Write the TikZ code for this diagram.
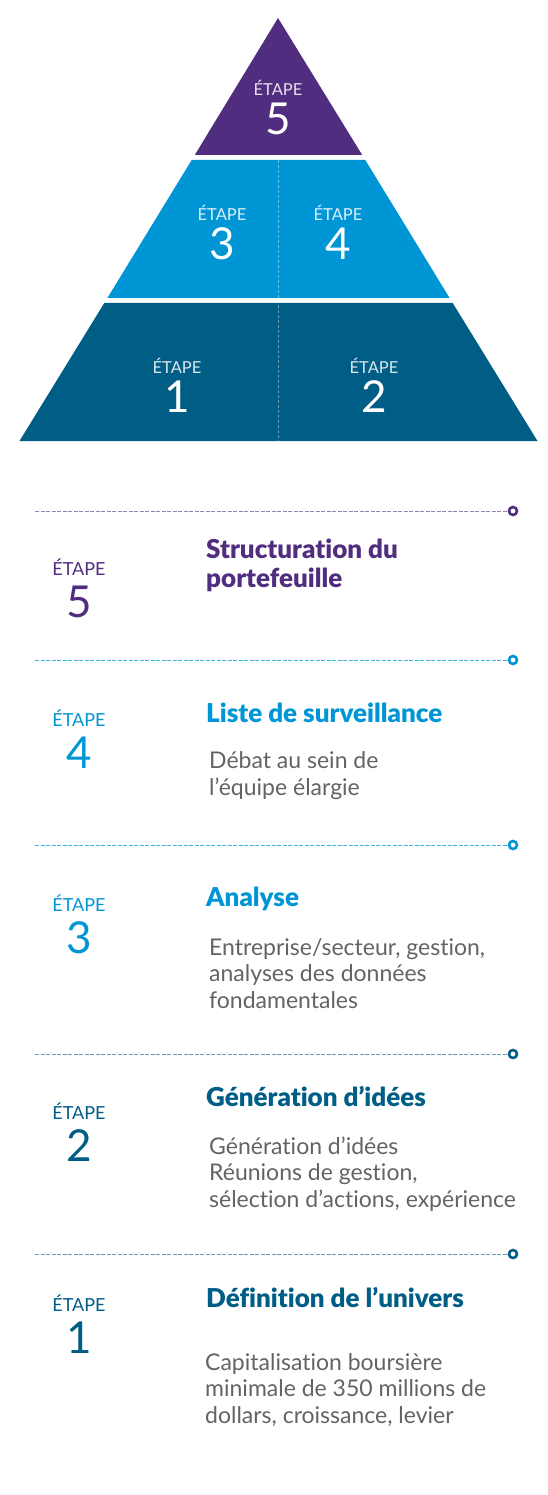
\documentclass[tikz,border=0pt]{standalone}
\usepackage{fontspec}
\setmainfont{Lato}[Ligatures=NoCommon, BoldFont={Lato Black}]
\definecolor{violet}{RGB}{81,45,127}
\definecolor{sky}{RGB}{0,150,214}
\definecolor{navy}{RGB}{0,94,134}
\definecolor{gris}{RGB}{99,99,99}
\begin{document}
\begin{tikzpicture}[x=1pt,y=-1pt,
    etape/.style={font=\fontsize{18}{18}\selectfont, inner sep=0pt, anchor=base},
    chiffre/.style={font=\fontsize{44}{44}\selectfont, inner sep=0pt, anchor=base},
    titre/.style={font=\fontsize{26}{29}\selectfont\bfseries, inner sep=0pt, anchor=base west, align=left},
    texte/.style={font=\fontsize{23}{26.5}\selectfont, text=gris, inner sep=0pt, anchor=base west, align=left},
    ligne/.style={dash pattern=on 4pt off 1.5pt, line width=1pt},
    rond/.style={circle, draw, line width=2.6pt, minimum size=8pt, inner sep=0pt, fill=white}]
            \useasboundingbox (0,0) rectangle (547,1495);

            \fill[violet] (278,18) -- (362.2,155) -- (194.8,155) -- cycle;
            \fill[sky] (191.7,160) -- (365.3,160) -- (449.6,298) -- (107.4,298) -- cycle;
            \fill[navy] (104.3,303) -- (452.7,303) -- (537.5,441) -- (19.5,441) -- cycle;
            \draw[white, opacity=.4, dash pattern=on 3pt off 2pt, line width=.8pt] (278,160) -- (278,441);

            \foreach \n/\x/\y in {5/278/96, 3/222/221, 4/338/221, 1/177/373, 2/374/373}{
                    \node[etape, font=\fontsize{16.5}{16.5}\selectfont, text=white, text opacity=.85] (pe\n) at (\x,\y) {ÉTAPE};
                    \node[chiffre, text=white] (pc\n) at (\x,\y+39) {\n};
                }

            \foreach \n/\y/\e/\c/\lc in {5/511/575/violet/violet!60, 4/660/726/sky/sky!75, 3/845/911/sky/sky!75, 2/1054/1119/navy/navy!60, 1/1254/1311/navy/navy!60}{
                    \node[rond, draw=\c] (o\n) at (513,\y) {};
                    \coordinate (g\n) at (35,\y);
                    \draw[ligne, draw=\lc] (g\n) -- (o\n);
                    \node[etape, text=\c] (e\n) at (79,\e) {ÉTAPE};
                    \node[chiffre, text=\c] (c\n) at (79,\e+42) {\n};
                }

            \node[titre, text=violet] (t5) at (206,587) {Structuration du\\portefeuille};
            \node[titre, text=sky] (t4) at (206,722) {Liste de surveillance};
            \node[titre, text=sky] (t3) at (206,906) {Analyse};
            \node[titre, text=navy] (t2) at (206,1106) {Génération d’idées};
            \node[titre, text=navy] (t1) at (206,1307) {Définition de l’univers};

            \node[texte] (b4) at (209,795) {Débat au sein de\\l’équipe élargie};
            \node[texte] (b3) at (209,1008) {Entreprise/secteur, gestion,\\analyses des données\\fondamentales};
            \node[texte] (b2) at (209,1207) {Génération d’idées\\Réunions de gestion,\\sélection d’actions, expérience};
            \node[texte] (b1) at (205,1423) {Capitalisation boursière\\minimale de 350 millions de\\dollars, croissance, levier};
        \end{tikzpicture}
\end{document}
